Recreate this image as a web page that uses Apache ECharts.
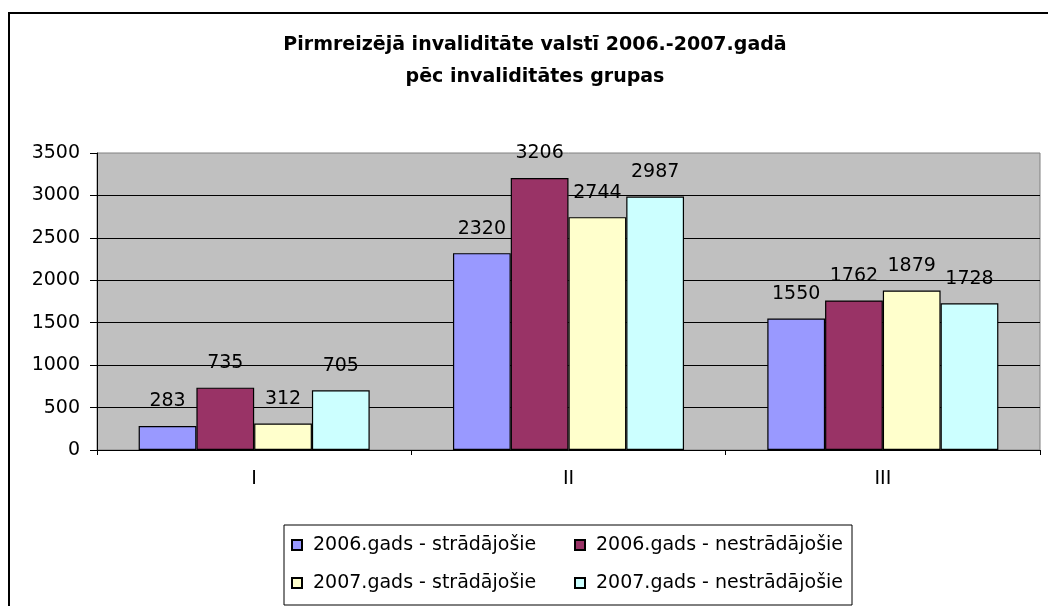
<!DOCTYPE html>
<html>
<head>
<meta charset="utf-8">
<script src="https://cdn.jsdelivr.net/npm/echarts@6/dist/echarts.min.js"></script>
<style>
  html, body { margin: 0; padding: 0; background: #fff; }
  #chart { width: 1048px; height: 606px; }
</style>
</head>
<body>
<div id="chart"></div>
<script>
// data
const categories = ["I", "II", "III"];
const seriesNames = [
  "2006.gads - strādājošie",
  "2006.gads - nestrādājošie",
  "2007.gads - strādājošie",
  "2007.gads - nestrādājošie"
];
const strad2006 = [283, 2320, 1550];
const nestrad2006 = [735, 3206, 1762];
const strad2007 = [312, 2744, 1879];
const nestrad2007 = [705, 2987, 1728];
const colors = ["#9999FF", "#993366", "#FFFFCC", "#CCFFFF"];

const font = "DejaVu Sans";
const values = [strad2006, nestrad2006, strad2007, nestrad2007];

let myChart = echarts.init(document.getElementById("chart"));
let option = {
  animation: false,
  backgroundColor: "#fff",
  title: {
    text: "Pirmreizējā invaliditāte valstī 2006.-2007.gadā\npēc invaliditātes grupas",
    left: 535,
    top: 29,
    textAlign: "center",
    padding: 0,
    textStyle: {
      fontFamily: font,
      fontSize: 19,
      fontWeight: "bold",
      color: "#000",
      lineHeight: 32,
    },
  },
  grid: {
    left: 97,
    right: 8,
    top: 153,
    bottom: 156,
    show: true,
    backgroundColor: "#C0C0C0",
    borderColor: "#808080",
    borderWidth: 1,
  },
  legend: {
    data: seriesNames,
    orient: "horizontal",
    left: 284,
    top: 525,
    width: 560,
    padding: [6, 5, 8, 7],
    itemGap: 10,
    itemWidth: 10,
    itemHeight: 10,
    borderColor: "#000",
    borderWidth: 1,
    icon: "rect",
    textStyle: {
      fontFamily: font,
      fontSize: 19,
      color: "#000",
      width: 251,
      lineHeight: 28,
      padding: [0, 0, 0, 6],
    },
  },
  xAxis: {
    type: "category",
    data: categories,
    axisLine: { show: true, lineStyle: { color: "#000", width: 1 } },
    axisTick: { show: true, length: 5, lineStyle: { color: "#000" } },
    axisLabel: {
      fontFamily: font,
      fontSize: 19,
      color: "#000",
      margin: 20,
    },
    splitLine: { show: false },
  },
  yAxis: {
    type: "value",
    min: 0,
    max: 3500,
    interval: 500,
    axisLine: { show: true, lineStyle: { color: "#000", width: 1 } },
    axisTick: { show: true, length: 7, lineStyle: { color: "#000" } },
    axisLabel: {
      fontFamily: font,
      fontSize: 19,
      color: "#000",
      margin: 17,
      formatter: (v) => String(v),
    },
    splitLine: {
      show: true,
      showMaxLine: false,
      lineStyle: { color: "#000", width: 1 },
    },
  },
  series: seriesNames.map((name, i) => ({
    name: name,
    type: "bar",
    data: values[i],
    barGap: "0%",
    barCategoryGap: "26.5%",
    itemStyle: {
      color: colors[i],
      borderColor: "#000",
      borderWidth: 1.2,
    },
    label: {
      show: true,
      position: "top",
      distance: 15,
      fontFamily: font,
      fontSize: 19,
      color: "#000",
    },
  })),
  graphic: [
    {
      type: "rect",
      shape: { x: 9, y: 13, width: 1100, height: 700 },
      style: { fill: "none", stroke: "#000", lineWidth: 2 },
      silent: true,
    },
  ],
};
myChart.setOption(option);
</script>
</body>
</html>
